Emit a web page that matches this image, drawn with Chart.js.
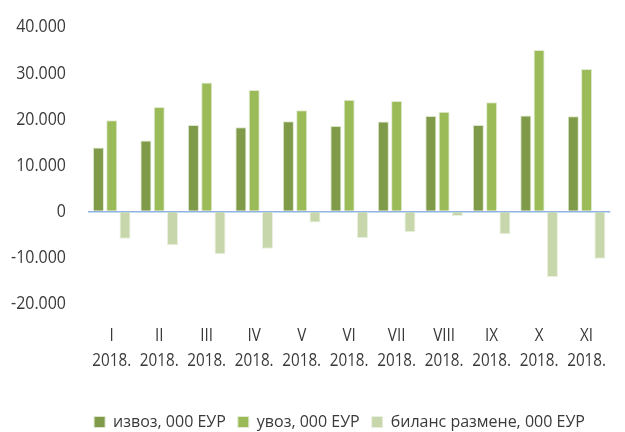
<!DOCTYPE html>
<html>
<head>
<meta charset="utf-8">
<script src="https://cdn.jsdelivr.net/npm/chart.js@4/dist/chart.umd.min.js"></script>
<style>
html,body{margin:0;padding:0;background:#fff;}
#wrap{width:625px;height:432px;position:relative;}
</style>
</head>
<body>
<div id="wrap"><canvas id="c" width="625" height="432"></canvas></div>
<script>
const months = ['I','II','III','IV','V','VI','VII','VIII','IX','X','XI'];
const yearLabel = '2018.';
const exportVals = [13880, 15390, 18770, 18270, 19570, 18550, 19500, 20710, 18770, 20800, 20650];
const importVals = [19780, 22660, 28000, 26340, 21950, 24260, 23960, 21660, 23680, 34990, 30880];
const balanceVals = [-5900, -7270, -9230, -8070, -2380, -5710, -4460, -950, -4910, -14190, -10230];
const seriesNames = ['извоз, 000 ЕУР', 'увоз, 000 ЕУР', 'биланс размене, 000 ЕУР'];
const yTicks = [-20000, -10000, 0, 10000, 20000, 30000, 40000];

const FONT = '"Open Sans", "Noto Sans", sans-serif';
const TXT = '#3a3a3a';
const Y_SIZE = 19, X_SIZE = 17.5, LEG_SIZE = 16;
// horizontal narrowing per font size, to imitate the condensed face of the original
const NARROW = {19: 0.84, 17.5: 0.87, 16: 1.0};

const canvas = document.getElementById('c');
const ctx2d = canvas.getContext('2d');
const origMeasure = ctx2d.measureText.bind(ctx2d);
const origFill = ctx2d.fillText.bind(ctx2d);
function narrowFactor(c){
  const m = /([\d.]+)px/.exec(c.font);
  const s = m ? parseFloat(m[1]) : 0;
  return NARROW[s] || 1;
}
ctx2d.measureText = function(t){
  const k = narrowFactor(ctx2d);
  const m = origMeasure(t);
  return {width: m.width * k,
          actualBoundingBoxAscent: m.actualBoundingBoxAscent,
          actualBoundingBoxDescent: m.actualBoundingBoxDescent,
          actualBoundingBoxLeft: m.actualBoundingBoxLeft * k,
          actualBoundingBoxRight: m.actualBoundingBoxRight * k};
};
ctx2d.fillText = function(t, x, y, maxW){
  const k = narrowFactor(ctx2d);
  let w = origMeasure(t).width * k;
  if (maxW !== undefined && maxW < w) w = maxW;
  origFill(t, x, y, Math.max(w, 0.01));
};

function fmt(v){
  if (v === 0) return '0';
  const s = Math.abs(v).toString().replace(/\B(?=(\d{3})+(?!\d))/g, '.');
  return (v < 0 ? '-' : '') + s;
}

const shiftLegend = {
  id: 'shiftLegend',
  afterLayout(chart){
    const lg = chart.legend;
    if (lg) { lg.left += 27; lg.right += 27; }
  }
};

new Chart(canvas, {
  type: 'bar',
  data: {
    labels: months.map(m => [m, yearLabel]),
    datasets: [
      {label: seriesNames[0], data: exportVals, backgroundColor: '#7f9a48', borderColor: '#dde6cc', borderWidth: 1},
      {label: seriesNames[1], data: importVals, backgroundColor: '#9bbb59', borderColor: '#e2ebd2', borderWidth: 1},
      {label: seriesNames[2], data: balanceVals, backgroundColor: '#c7d7ab', borderColor: '#eaf0df', borderWidth: 1}
    ]
  },
  plugins: [shiftLegend],
  options: {
    responsive: false,
    animation: false,
    layout: {padding: {top: 27, right: 0, left: 0, bottom: -8}},
    plugins: {
      legend: {
        position: 'bottom',
        labels: {
          font: {family: FONT, size: LEG_SIZE, weight: '500'},
          color: TXT,
          boxWidth: 11,
          boxHeight: 11,
          padding: 12,
          useBorderRadius: false
        }
      },
      tooltip: {enabled: false}
    },
    datasets: {bar: {categoryPercentage: 0.84, barPercentage: 0.83}},
    scales: {
      x: {
        grid: {display: false, drawTicks: false},
        border: {display: false},
        afterFit: (axis) => { axis.height += 9; },
        ticks: {font: {family: FONT, size: X_SIZE, lineHeight: 1.46, weight: '500'}, color: TXT, maxRotation: 0, autoSkip: false, padding: 19}
      },
      y: {
        min: -20000,
        max: 40000,
        afterBuildTicks: (axis) => { axis.ticks = yTicks.map(v => ({value: v})); },
        afterFit: (axis) => { axis.width = 88; axis.paddingTop = 0; axis.paddingBottom = 0; },
        border: {display: false},
        grid: {
          drawTicks: false,
          color: (ctx) => ctx.tick && ctx.tick.value === 0 ? '#8eb4e3' : 'rgba(0,0,0,0)',
          lineWidth: (ctx) => ctx.tick && ctx.tick.value === 0 ? 1.5 : 0
        },
        ticks: {font: {family: FONT, size: Y_SIZE, weight: '500'}, color: TXT, padding: 22, callback: (v) => fmt(v)}
      }
    }
  }
});
</script>
</body>
</html>
